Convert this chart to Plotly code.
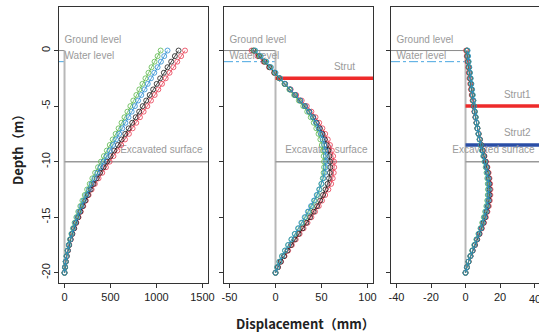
import plotly.graph_objects as go

# ---------------- data ----------------
depth = [0, -0.5, -1, -1.5, -2, -2.5, -3, -3.5, -4, -4.5, -5, -5.5, -6, -6.5, -7, -7.5,
         -8, -8.5, -9, -9.5, -10, -10.5, -11, -11.5, -12, -12.5, -13, -13.5, -14, -14.5,
         -15, -15.5, -16, -16.5, -17, -17.5, -18, -18.5, -19, -19.5, -20]

# Panel 1 (cantilever)
p1_red = [1310, 1268, 1226, 1184, 1142, 1100, 1060, 1020, 980, 940, 900, 860, 820, 780, 740, 700,
          658, 616, 574, 532, 490, 450, 410, 370, 330, 295, 262, 232, 204, 177,
          152, 128, 106, 86, 68, 52, 38, 26, 15, 6, 0]
p1_black = [1240, 1200, 1160, 1120, 1080, 1040, 1002, 964, 926, 888, 850, 812, 774, 736, 698, 660,
            620, 580, 540, 500, 462, 424, 386, 350, 316, 284, 254, 225, 198, 172,
            148, 125, 104, 84, 66, 50, 36, 24, 14, 6, 0]
p1_blue = [1120, 1084, 1048, 1012, 976, 940, 905, 870, 835, 800, 765, 730, 696, 662, 628, 594,
           560, 526, 492, 458, 424, 390, 357, 325, 294, 264, 236, 209, 184, 160,
           138, 117, 97, 79, 62, 47, 34, 22, 13, 5, 0]
p1_green = [1045, 1012, 979, 946, 913, 880, 847, 814, 781, 748, 716, 684, 652, 620, 588, 556,
            524, 492, 460, 428, 396, 364, 333, 303, 274, 246, 220, 195, 172, 150,
            129, 110, 92, 75, 59, 45, 32, 21, 12, 5, 0]

# Panel 2 (one strut)
p2_red = [-26, -19.5, -13, -7, -1.5, 4.5, 10.5, 16.5, 22.5, 28.5, 34, 39, 43.5, 47.5, 51, 54,
          56.8, 59.2, 61.2, 62.7, 63.6, 63.8, 63.3, 62.2, 60.5, 57.5, 54, 50.6, 47, 43,
          39, 34.8, 30.5, 26.2, 22, 17.8, 13.7, 9.8, 6, 2.7, 0]
p2_black = [-24, -18, -12, -6.5, -1.2, 4.3, 10, 15.7, 21.3, 26.8, 32, 36.8, 41, 44.8, 48.1, 51,
            53.5, 55.6, 57.3, 58.6, 59.4, 59.6, 59.2, 58.2, 56.6, 54.4, 51.7, 48.6, 45.2, 41.5,
            37.6, 33.5, 29.3, 25.1, 20.9, 16.9, 13, 9.3, 5.7, 2.6, 0]
p2_blue = [-22, -16, -10, -5, 0, 5, 10.5, 16, 21.5, 27, 32, 36.5, 40.5, 44, 47, 49.5,
           51.5, 53, 54.2, 54.8, 55, 54.5, 53.5, 52, 50, 47.5, 44.8, 41.8, 38.6, 35.2,
           31.7, 28.1, 24.5, 20.9, 17.3, 13.8, 10.4, 7.2, 4.3, 1.9, 0]
p2_green = [-23, -17, -11, -5.6, -0.6, 4.5, 9.8, 15.1, 20.3, 25.4, 30.2, 34.5, 38.3, 41.6, 44.4, 46.8,
            48.8, 50.4, 51.6, 52.4, 52.8, 52.8, 52.3, 51.4, 49.9, 47.9, 45.4, 42.6, 39.5, 36.1,
            32.5, 28.8, 25, 21.2, 17.4, 13.8, 10.3, 7.1, 4.2, 1.8, 0]

# Panel 3 (two struts)
p3_red = [0.3, 0.7, 1.1, 1.5, 1.9, 2.3, 2.7, 3.1, 3.6, 4.1, 4.6, 5.1, 5.7, 6.3, 6.9, 7.6,
          8.4, 9.2, 10.1, 11.0, 11.9, 12.7, 13.4, 13.9, 14.3, 14.5, 14.4, 14.1, 13.5, 12.7,
          11.8, 10.7, 9.5, 8.2, 6.8, 5.5, 4.2, 2.9, 1.8, 0.8, 0]
p3_black = [0.8, 1.1, 1.5, 1.9, 2.3, 2.7, 3.1, 3.5, 3.9, 4.4, 4.8, 5.3, 5.8, 6.4, 6.9, 7.6,
            8.3, 9.1, 9.9, 10.8, 11.6, 12.4, 13.0, 13.5, 13.8, 14.0, 13.9, 13.6, 13.0, 12.3,
            11.4, 10.4, 9.2, 8.0, 6.7, 5.4, 4.1, 2.9, 1.8, 0.8, 0]
p3_blue = [1.2, 1.5, 1.8, 2.2, 2.6, 3.0, 3.4, 3.8, 4.2, 4.6, 5.0, 5.4, 5.9, 6.4, 6.9, 7.5,
           8.2, 8.9, 9.7, 10.5, 11.3, 12.0, 12.6, 13.0, 13.3, 13.4, 13.3, 13.0, 12.5, 11.8,
           11.0, 10.0, 8.9, 7.7, 6.5, 5.2, 4.0, 2.8, 1.7, 0.8, 0]
p3_green = [1.0, 1.3, 1.7, 2.1, 2.5, 2.9, 3.3, 3.7, 4.1, 4.5, 4.9, 5.4, 5.9, 6.4, 6.9, 7.5,
            8.1, 8.8, 9.5, 10.3, 11.0, 11.7, 12.2, 12.6, 12.9, 13.0, 12.9, 12.6, 12.1, 11.4,
            10.6, 9.7, 8.7, 7.5, 6.3, 5.1, 3.9, 2.8, 1.7, 0.8, 0]

x_ticks = [[0, 500, 1000, 1500], [-50, 0, 50, 100], [-40, -20, 0, 20, 40]]
y_ticks = [0, -5, -10, -15, -20]
x_nominal = [(0, 1500), (-50, 100), (-40, 40)]
struts = [[], [("Strut", -2.5, "#ee2a2a")], [("Strut1", -5, "#ee2a2a"), ("Strut2", -8.5, "#2a4ea6")]]
ground_level = 0
water_level = -1
excavation = -10
wall_bottom = -20

# ---------------- styling ----------------
W, H = 539, 335
colors = {"red": "#e8384f", "black": "#1a1a1a", "green": "#5bb84a", "blue": "#2a8bd2"}
panels = [
    {"red": p1_red, "black": p1_black, "green": p1_green, "blue": p1_blue},
    {"red": p2_red, "black": p2_black, "green": p2_green, "blue": p2_blue},
    {"red": p3_red, "black": p3_black, "green": p3_green, "blue": p3_blue},
]
x_ranges = [[-60, 1560], [-56, 106], [-43.2, 42.6]]
x_domains = [[59 / W, 208 / W], [224 / W, 373 / W], [391 / W, 1.0]]
y_range = [-20.92, 3.92]
y_domain = [1 - 283 / H, 1 - 7 / H]
grey_txt = "#9a9a9a"
font_fam = "Liberation Sans, Arial, sans-serif"

fig = go.Figure()
shapes = []

for i in range(3):
    xa = "x" if i == 0 else f"x{i+1}"
    ya = "y" if i == 0 else f"y{i+1}"
    xmin, xmax = x_ranges[i]
    nmin, nmax = x_nominal[i]

    # reference lines
    shapes.append(dict(type="line", xref=xa, yref=ya, x0=xmin, x1=0, y0=ground_level, y1=ground_level,
                       line=dict(color="#8a8a8a", width=1), layer="below"))
    shapes.append(dict(type="line", xref=xa, yref=ya, x0=xmin, x1=0, y0=water_level, y1=water_level,
                       line=dict(color="#4aa6e0", width=1, dash="dashdot"), layer="below"))
    shapes.append(dict(type="line", xref=xa, yref=ya, x0=0, x1=0, y0=ground_level, y1=wall_bottom,
                       line=dict(color="#b8b8b8", width=2), layer="below"))
    shapes.append(dict(type="line", xref=xa, yref=ya, x0=0, x1=xmax, y0=excavation, y1=excavation,
                       line=dict(color="#999999", width=1.5), layer="below"))
    for (name, sy, sc) in struts[i]:
        shapes.append(dict(type="line", xref=xa, yref=ya, x0=0, x1=xmax, y0=sy, y1=sy,
                           line=dict(color=sc, width=3.5), layer="below"))

    # text labels (drawn under the curves)
    tx = [nmin, nmin, nmax]
    ty = [ground_level + 0.9, water_level + 0.45, excavation + 1.0]
    tt = ["Ground level", "Water level", "Excavated surface"]
    tp = ["middle right", "middle right", "middle left"]
    for (name, sy, sc) in struts[i]:
        tx.append(0.75 * nmax)
        ty.append(sy + 1.0)
        tt.append(name)
        tp.append("middle center")
    for k in range(len(tx)):
        fig.add_trace(go.Scatter(x=[tx[k]], y=[ty[k]], text=[tt[k]], mode="text",
                                 textposition=tp[k], cliponaxis=False,
                                 textfont=dict(size=10, color=grey_txt, family=font_fam),
                                 xaxis=xa, yaxis=ya, showlegend=False, hoverinfo="skip"))

    # data series
    for key in ["red", "black", "green", "blue"]:
        fig.add_trace(go.Scatter(
            x=panels[i][key], y=depth, mode="lines+markers",
            line=dict(color=colors[key], width=0.8),
            marker=dict(symbol="circle-open", size=5, color=colors[key],
                        line=dict(width=0.8, color=colors[key])),
            xaxis=xa, yaxis=ya, showlegend=False))

layout = dict(
    width=W, height=H, margin=dict(l=0, r=0, t=0, b=0, autoexpand=False),
    paper_bgcolor="white", plot_bgcolor="white", showlegend=False,
    shapes=shapes,
    font=dict(family=font_fam, size=11, color="#222222"),
)
axis_common = dict(showgrid=False, zeroline=False, showline=True, linecolor="#333333", linewidth=1,
                   ticks="outside", ticklen=4, tickcolor="#333333", tickwidth=1, automargin=False,
                   tickfont=dict(size=11, color="#222222", family=font_fam))
for i in range(3):
    xk = "xaxis" if i == 0 else f"xaxis{i+1}"
    yk = "yaxis" if i == 0 else f"yaxis{i+1}"
    ya = "y" if i == 0 else f"y{i+1}"
    xa = "x" if i == 0 else f"x{i+1}"
    layout[xk] = dict(axis_common, domain=x_domains[i], range=x_ranges[i], anchor=ya,
                      tickmode="array", tickvals=x_ticks[i], ticktext=[str(v) for v in x_ticks[i]],
                      mirror=True)
    layout[yk] = dict(axis_common, domain=y_domain, range=y_range, anchor=xa,
                      tickmode="array", tickvals=y_ticks, ticktext=[str(v) for v in y_ticks],
                      showticklabels=(i == 0), tickangle=-90, mirror=(i < 2))

# the last tick label of panel 3 runs off the page edge (partly visible, as in the original)
last_tick = x_ticks[2][-1]
layout["annotations"] = [
    dict(text="<b>Depth（m）</b>", x=17 / W, y=1 - 147 / H, xref="paper", yref="paper",
         showarrow=False, textangle=-90, font=dict(size=13, color="#222222", family="Noto Sans CJK JP"),
         xanchor="center", yanchor="middle"),
    dict(text="<b>Displacement（mm）</b>", x=305 / W, y=1 - 323 / H, xref="paper", yref="paper",
         showarrow=False, font=dict(size=13, color="#222222", family="Noto Sans CJK JP"),
         xanchor="center", yanchor="middle"),
    dict(text=str(last_tick), x=last_tick, y=1 - 299 / H, xref="x3", yref="paper",
         showarrow=False, font=dict(size=11, color="#222222", family=font_fam),
         xanchor="center", yanchor="middle"),
]
fig.update_layout(layout)
fig.write_html("out.html")
